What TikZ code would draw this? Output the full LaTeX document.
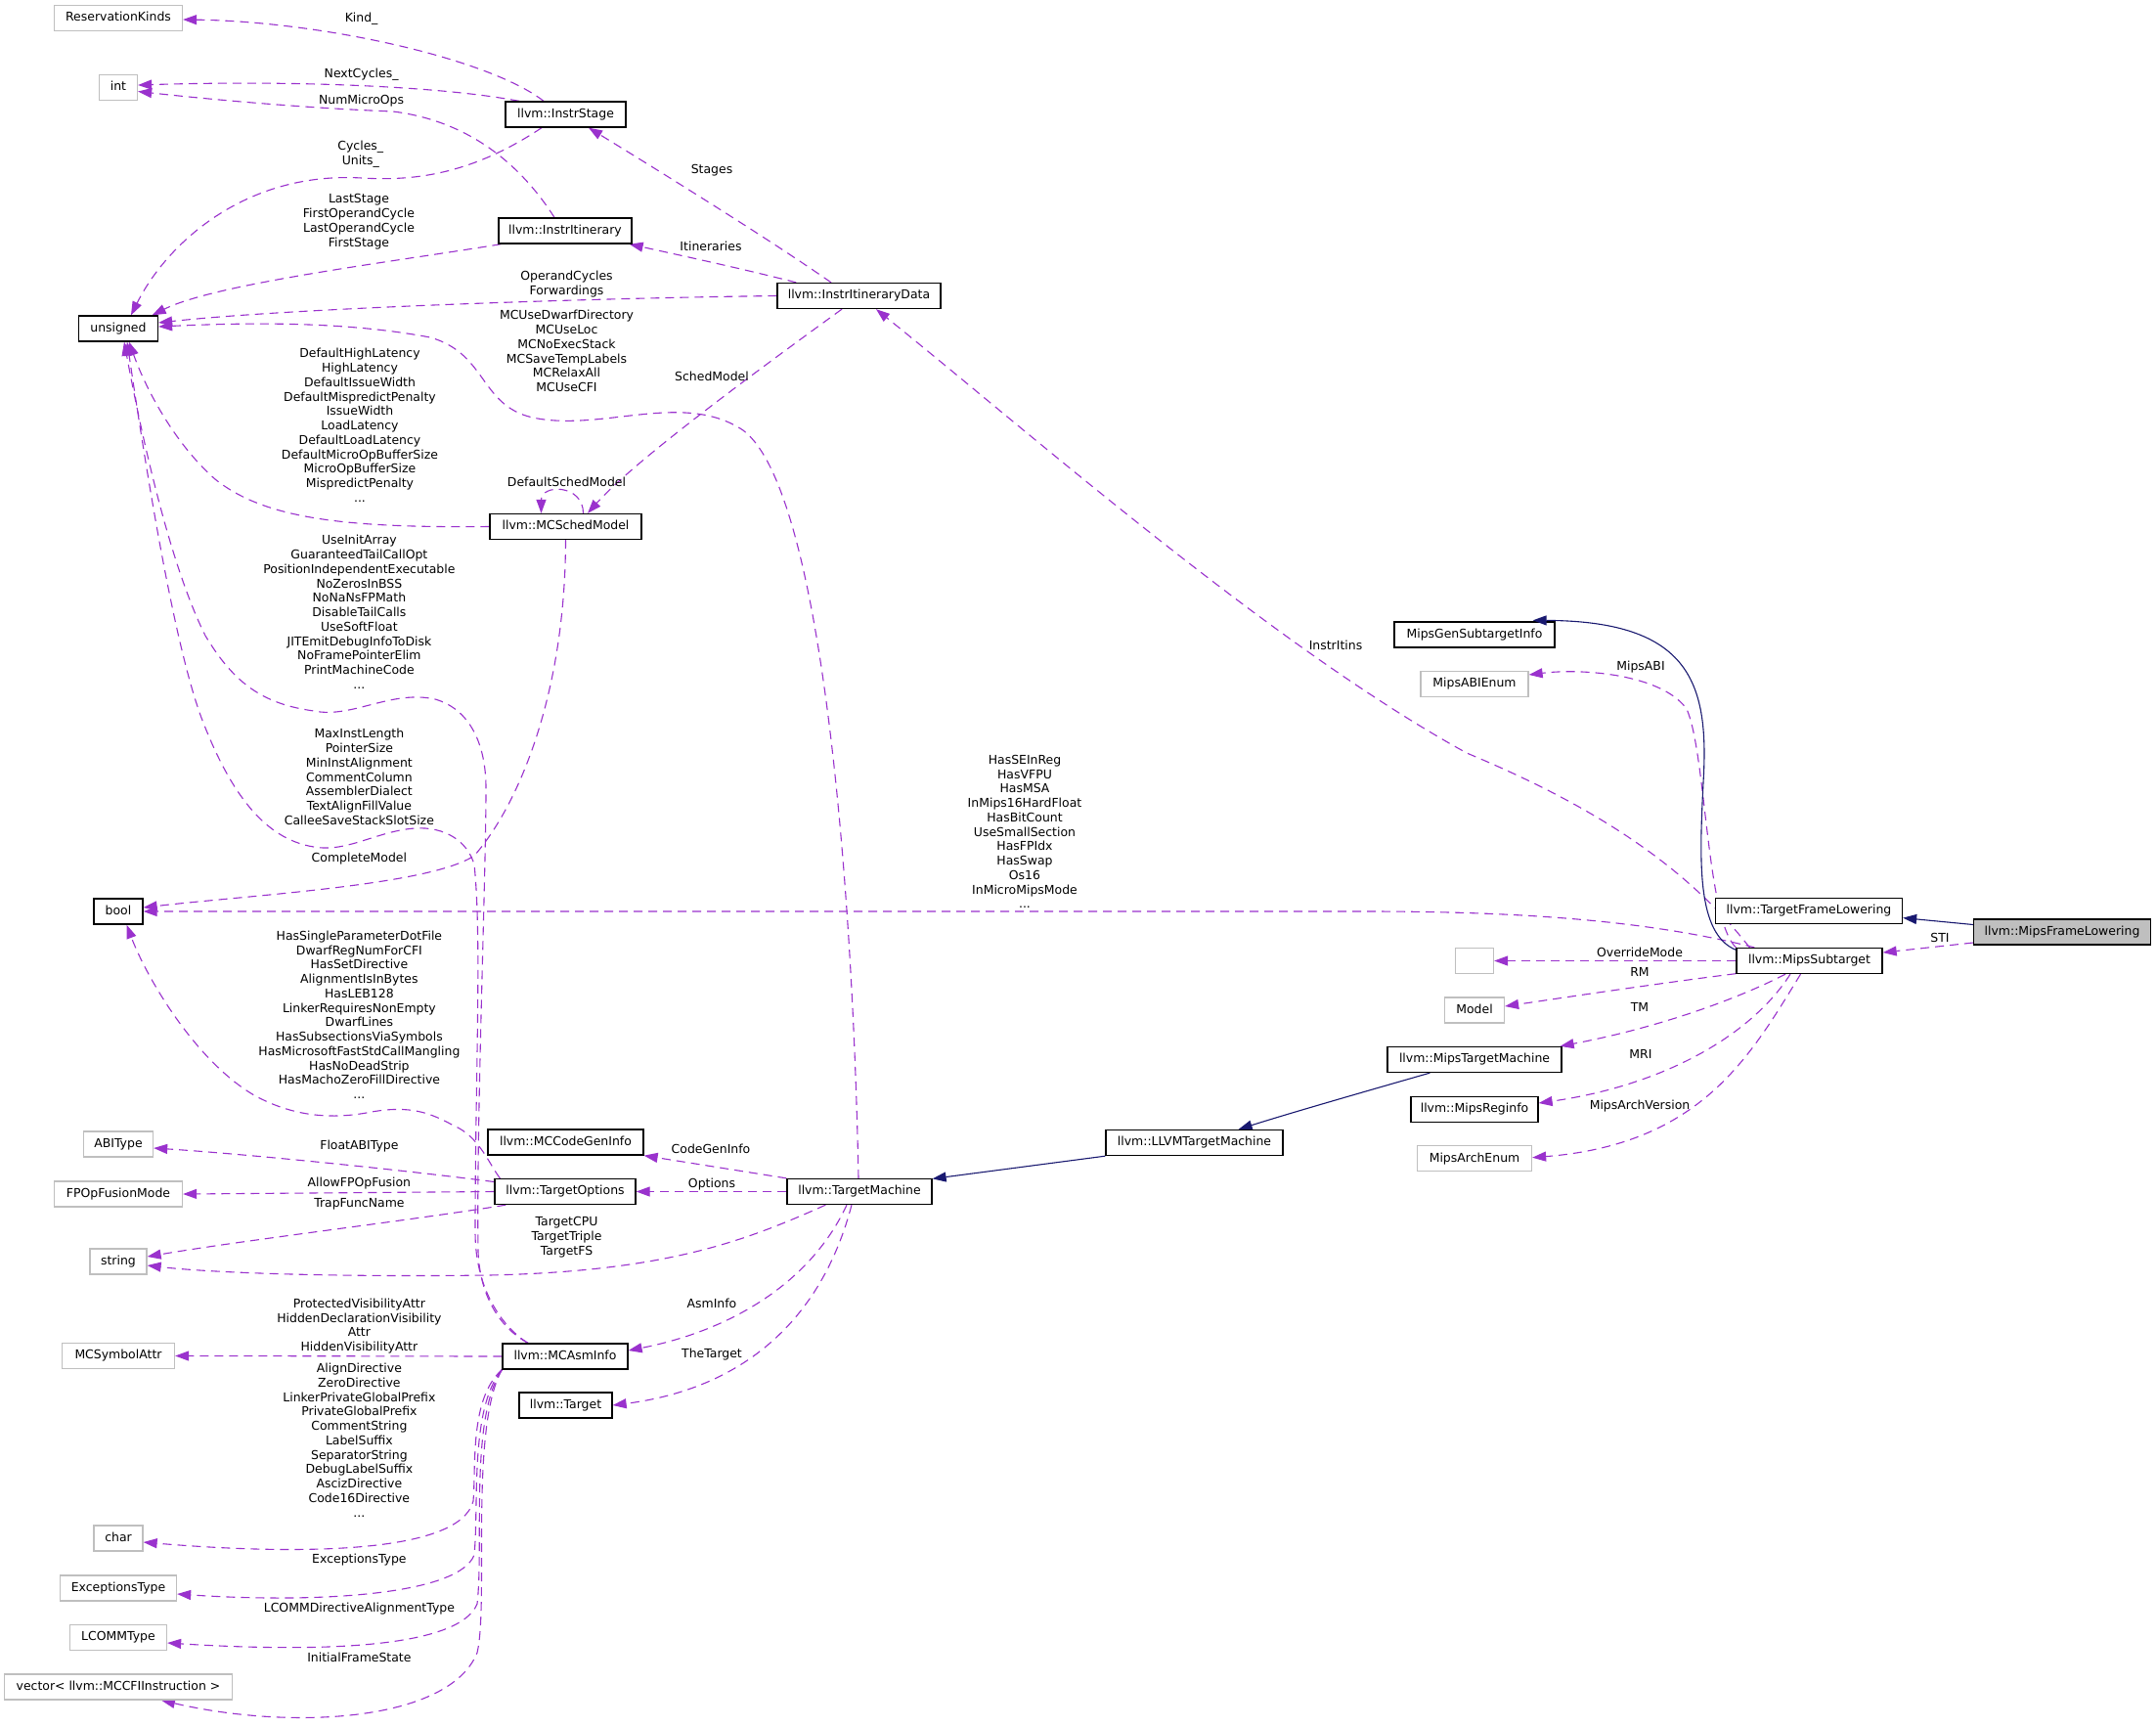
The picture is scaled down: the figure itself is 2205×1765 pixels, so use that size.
\documentclass[tikz,border=0pt]{standalone}
\usepackage{fontspec}
\setmainfont{DejaVu Sans}
\usetikzlibrary{arrows.meta}
\pgfdeclarelayer{bgl}
\pgfdeclarelayer{edgel}
\pgfsetlayers{bgl,edgel,main}
\definecolor{depcol}{HTML}{9A32CD}
\definecolor{inhcol}{HTML}{191970}
\definecolor{grey75}{HTML}{BFBFBF}
\begin{document}
\begin{tikzpicture}[x=1pt,y=-1pt,
 fnt/.style={font=\fontsize{12.45}{14.75}\selectfont},
 boxbase/.style={fnt, rectangle, line width=1.3pt, minimum height=26pt, inner xsep=4pt, inner ysep=0pt, text height=9.3pt, text depth=2.7pt},
 docbox/.style={boxbase, draw=black, fill=white},
 undocbox/.style={boxbase, draw=grey75, fill=white},
 lbl/.style={fnt, align=center, inner sep=0pt},
 dep/.style={draw=depcol, line width=1.1pt, dash pattern=on 9pt off 6pt, -{Triangle[length=14pt,width=10pt]}},
 inh/.style={draw=inhcol, line width=1.1pt, -{Triangle[length=14pt,width=10pt]}}]
\begin{pgfonlayer}{bgl}
\fill[white] (0,0) rectangle (2205,1765);
\end{pgfonlayer}
\useasboundingbox (0,0) rectangle (2205,1765);
% left column
\node[undocbox, minimum width=131pt] (rk) at (121,18.3) {ReservationKinds};
\node[undocbox, minimum width=39pt] (int) at (121,89.5) {int};
\node[docbox, minimum width=81pt] (uns) at (121,336) {unsigned};
\node[docbox, minimum width=50pt] (bool) at (121,932) {bool};
\node[undocbox, minimum width=71pt] (abi) at (121,1170) {ABIType};
\node[undocbox, minimum width=131pt] (fpo) at (121,1221) {FPOpFusionMode};
\node[undocbox, minimum width=58pt] (str) at (121,1290) {string};
\node[undocbox, minimum width=115pt] (msa) at (121,1386.5) {MCSymbolAttr};
\node[undocbox, minimum width=50pt] (chr) at (121,1573) {char};
\node[undocbox, minimum width=119pt] (ext) at (121,1624) {ExceptionsType};
\node[undocbox, minimum width=99pt] (lct) at (121,1674.5) {LCOMMType};
\node[undocbox, minimum width=233pt] (vec) at (121,1725) {vector< llvm::MCCFIInstruction >};
% middle column
\node[docbox, minimum width=123pt] (is) at (578.5,117) {llvm::InstrStage};
\node[docbox, minimum width=136pt] (iti) at (578,236) {llvm::InstrItinerary};
\node[docbox, minimum width=155pt] (msm) at (578.5,538.5) {llvm::MCSchedModel};
\node[docbox, minimum width=159pt] (mcgi) at (578.5,1168) {llvm::MCCodeGenInfo};
\node[docbox, minimum width=144pt] (to) at (578,1218.5) {llvm::TargetOptions};
\node[docbox, minimum width=128pt] (mai) at (578,1387) {llvm::MCAsmInfo};
\node[docbox, minimum width=95pt] (tgt) at (578.5,1437) {llvm::Target};
% third column
\node[docbox, minimum width=167pt] (iid) at (878.5,302.5) {llvm::InstrItineraryData};
\node[docbox, minimum width=148pt] (tm) at (879,1218.5) {llvm::TargetMachine};
\node[docbox, minimum width=181pt] (ltm) at (1221.5,1168.5) {llvm::LLVMTargetMachine};
% mips column
\node[docbox, minimum width=164pt] (mgsi) at (1508,649) {MipsGenSubtargetInfo};
\node[undocbox, minimum width=110pt] (mabi) at (1508,699.5) {MipsABIEnum};
\node[undocbox, minimum width=39pt] (empty) at (1508,982.5) {};
\node[undocbox, minimum width=61pt] (model) at (1508,1033) {Model};
\node[docbox, minimum width=178pt] (mtm) at (1508,1083.5) {llvm::MipsTargetMachine};
\node[docbox, minimum width=130pt] (mri) at (1508,1134.5) {llvm::MipsReginfo};
\node[undocbox, minimum width=117pt] (mae) at (1508,1184.7) {MipsArchEnum};
% right
\node[docbox, minimum width=191pt] (tfl) at (1850,931.6) {llvm::TargetFrameLowering};
\node[docbox, minimum width=149pt] (mst) at (1850.5,982.5) {llvm::MipsSubtarget};
\node[boxbase, draw=black, fill=grey75, minimum width=181pt] (mfl) at (2109,953) {llvm::MipsFrameLowering};

% edge labels
\node[lbl] (l1) at (369.6,18.75) {Kind\_};
\node[lbl] (l2) at (369.6,75.9) {NextCycles\_};
\node[lbl] (l3) at (369.6,102.7) {NumMicroOps};
\node[lbl] (l4) at (368.8,157.6) {Cycles\_\\Units\_};
\node[lbl] (l5) at (367,226.6) {LastStage\\FirstOperandCycle\\LastOperandCycle\\FirstStage};
\node[lbl] (l6) at (579.5,290.6) {OperandCycles\\Forwardings};
\node[lbl] (l7) at (579.5,359) {MCUseDwarfDirectory\\MCUseLoc\\MCNoExecStack\\MCSaveTempLabels\\MCRelaxAll\\MCUseCFI};
\node[lbl] (l8) at (368,434.8) {DefaultHighLatency\\HighLatency\\DefaultIssueWidth\\DefaultMispredictPenalty\\IssueWidth\\LoadLatency\\DefaultLoadLatency\\DefaultMicroOpBufferSize\\MicroOpBufferSize\\MispredictPenalty\\...};
\node[lbl] (l9) at (579.5,492.4) {DefaultSchedModel};
\node[lbl] (l10) at (728,384.6) {SchedModel};
\node[lbl] (l11) at (728,174.5) {Stages};
\node[lbl] (l12) at (727,251.8) {Itineraries};
\node[lbl] (l13) at (367.4,626) {UseInitArray\\GuaranteedTailCallOpt\\PositionIndependentExecutable\\NoZerosInBSS\\NoNaNsFPMath\\DisableTailCalls\\UseSoftFloat\\JITEmitDebugInfoToDisk\\NoFramePointerElim\\PrintMachineCode\\...};
\node[lbl] (l14) at (367.4,794.4) {MaxInstLength\\PointerSize\\MinInstAlignment\\CommentColumn\\AssemblerDialect\\TextAlignFillValue\\CalleeSaveStackSlotSize};
\node[lbl] (l15) at (367.4,878) {CompleteModel};
\node[lbl] (l16) at (367.4,1037.8) {HasSingleParameterDotFile\\DwarfRegNumForCFI\\HasSetDirective\\AlignmentIsInBytes\\HasLEB128\\LinkerRequiresNonEmpty\\DwarfLines\\HasSubsectionsViaSymbols\\HasMicrosoftFastStdCallMangling\\HasNoDeadStrip\\HasMachoZeroFillDirective\\...};
\node[lbl] (l17) at (367.4,1172.3) {FloatABIType};
\node[lbl] (l18) at (367.4,1210) {AllowFPOpFusion};
\node[lbl] (l19) at (367.4,1231) {TrapFuncName};
\node[lbl] (l20) at (579.5,1265) {TargetCPU\\TargetTriple\\TargetFS};
\node[lbl] (l21) at (367.4,1356) {ProtectedVisibilityAttr\\HiddenDeclarationVisibility\\Attr\\HiddenVisibilityAttr};
\node[lbl] (l22) at (367.4,1472.7) {AlignDirective\\ZeroDirective\\LinkerPrivateGlobalPrefix\\PrivateGlobalPrefix\\CommentString\\LabelSuffix\\SeparatorString\\DebugLabelSuffix\\AscizDirective\\Code16Directive\\...};
\node[lbl] (l23) at (367.4,1594.7) {ExceptionsType};
\node[lbl] (l24) at (367.4,1644.7) {LCOMMDirectiveAlignmentType};
\node[lbl] (l25) at (367.4,1695.3) {InitialFrameState};
\node[lbl] (l26) at (727,1175) {CodeGenInfo};
\node[lbl] (l27) at (728,1210.7) {Options};
\node[lbl] (l28) at (728,1332.6) {AsmInfo};
\node[lbl] (l29) at (728,1384.6) {TheTarget};
\node[lbl] (l30) at (1048,850.5) {HasSEInReg\\HasVFPU\\HasMSA\\InMips16HardFloat\\HasBitCount\\UseSmallSection\\HasFPIdx\\HasSwap\\Os16\\InMicroMipsMode\\...};
\node[lbl] (l31) at (1366,660) {InstrItins};
\node[lbl] (l32) at (1678,682) {MipsABI};
\node[lbl] (l33) at (1677,974) {OverrideMode};
\node[lbl] (l34) at (1677,994) {RM};
\node[lbl] (l35) at (1677,1030) {TM};
\node[lbl] (l36) at (1678,1078) {MRI};
\node[lbl] (l37) at (1677,1131) {MipsArchVersion};
\node[lbl] (l38) at (1984,959) {STI};

% inheritance edge to MipsGenSubtargetInfo drawn on top (its head lies on the box edge)
\draw[inh] ([yshift=-2.5pt]mst.north west) .. controls (1735,955) and (1738,880) .. (1742,800) .. controls (1748,700) and (1730,635) .. ([xshift=-23pt,yshift=1pt]mgsi.north east);

% edges (drawn beneath the boxes)
\begin{pgfonlayer}{edgel}
\draw[dep] ([xshift=-22.5pt]is.north) .. controls (500,60) and (330,22) .. ([yshift=-1.7pt]rk.east);
\draw[dep] ([xshift=-47.5pt]is.north) .. controls (450,88) and (300,82) .. ([yshift=2.5pt]int.east);
\draw[dep] ([xshift=-11pt]iti.north) .. controls (540,180) and (490,125) .. (402,114) .. controls (300,110) and (200,100) .. ([yshift=-4pt]int.east);
\draw[dep] ([xshift=-24.5pt]is.south) .. controls (480,180) and (420,185) .. (370,182) .. controls (250,175) and (170,250) .. ([xshift=13pt]uns.north);
\draw[dep] ([xshift=3pt]iti.south west) .. controls (400,268) and (220,290) .. ([xshift=-6.5pt]uns.north east);
\draw[dep] (iid.west) .. controls (600,305) and (300,315) .. ([yshift=6pt]uns.east);
\draw[dep] ([xshift=-1pt]tm.north) .. controls (872,900) and (840,500) .. (760,440) .. controls (700,400) and (620,440) .. (550,428) .. controls (490,418) and (500,362) .. (440,345) .. controls (350,328) and (250,330) .. ([yshift=2pt]uns.east);
\draw[dep] (msm.west) .. controls (350,540) and (270,530) .. (220,490) .. controls (180,455) and (150,400) .. ([xshift=11pt]uns.south);
\draw[dep] ([xshift=18pt]msm.north) .. controls +(0,-30) and +(0,-30) .. ([xshift=-25pt]msm.north);
\draw[dep] ([xshift=-17.5pt]iid.south) .. controls (780,375) and (650,470) .. ([xshift=22.5pt]msm.north);
\draw[dep] ([xshift=-28.5pt]iid.north) .. controls (780,240) and (650,160) .. ([xshift=23.5pt]is.south);
\draw[dep] ([xshift=20pt]iid.north west) .. controls (760,275) and (700,262) .. ([xshift=-3pt]iti.south east);
\draw[dep] ([xshift=-38pt]mai.north) .. controls (515,1360) and (491,1330) .. (489,1280) .. controls (487,1150) and (497,900) .. (497,806) .. controls (497,760) and (480,725) .. (445,715) .. controls (400,705) and (360,735) .. (321,727) .. controls (270,720) and (240,700) .. (210,650) .. controls (170,570) and (140,420) .. ([xshift=6pt]uns.south);
\draw[dep] ([xshift=-38pt]mai.north) .. controls (515,1358) and (486,1320) .. (486,1260) .. controls (486,1100) and (493,960) .. (485,884) .. controls (478,860) and (455,845) .. (424,847) .. controls (385,850) and (355,872) .. (321,866) .. controls (270,858) and (235,810) .. (206,734) .. controls (175,650) and (145,450) .. ([xshift=9pt]uns.south);
\draw[dep] ([xshift=6pt]to.north west) .. controls (500,1190) and (490,1162) .. (464,1151) .. controls (440,1138) and (420,1130) .. (380,1137) .. controls (340,1145) and (300,1142) .. (260,1120) .. controls (200,1085) and (150,1000) .. ([xshift=8.5pt]bool.south);
\draw[dep] (msm.south) .. controls (578,720) and (525,830) .. (485,875) .. controls (440,905) and (260,915) .. ([yshift=4pt]bool.east);
\draw[dep] ([xshift=19pt]mst.north west) .. controls (1700,945) and (1580,932) .. (1400,932) -- (bool.east);
\draw[dep] ([xshift=14pt]mst.north west) .. controls (1720,880) and (1620,820) .. (1500,770) .. controls (1300,660) and (1050,440) .. ([xshift=17.5pt]iid.south);
\draw[dep] (mst.north west) .. controls (1745,940) and (1745,770) .. (1725,725) .. controls (1700,690) and (1620,683) .. ([yshift=9.5pt]mabi.east);
\draw[dep] ([yshift=-11pt]mfl.west) -- ([yshift=8.5pt]mst.east);
\draw[inh] ([yshift=7.5pt]mfl.west) -- ([yshift=-7pt]tfl.east);
\draw[dep] (mst.west) -- (empty.east);
\draw[dep] ([yshift=0.5pt]mst.south west) .. controls (1700,1005) and (1600,1020) .. ([yshift=4pt]model.east);
\draw[dep] ([xshift=-24.5pt]mst.south) .. controls (1780,1020) and (1700,1050) .. ([xshift=-2pt]mtm.north east);
\draw[dep] ([xshift=-19.5pt]mst.south) .. controls (1790,1060) and (1700,1110) .. ([yshift=6.5pt]mri.east);
\draw[dep] ([xshift=-9pt]mst.south) .. controls (1790,1080) and (1740,1170) .. ([yshift=1pt]mae.east);
\draw[inh] ([xshift=44pt]mtm.south west) .. controls (1400,1115) and (1320,1138) .. ([xshift=-46pt]ltm.north east);
\draw[inh] (ltm.south west) -- ([yshift=-0.5pt]tm.north east);
\draw[dep] (tm.north west) -- (mcgi.south east);
\draw[dep] (tm.west) -- (to.east);
\draw[dep] ([xshift=40pt]tm.south west) .. controls (760,1270) and (680,1300) .. (500,1304) .. controls (350,1306) and (220,1302) .. ([yshift=-4pt]str.east);
\draw[dep] ([xshift=-13pt]tm.south) .. controls (830,1310) and (750,1360) .. ([yshift=6pt]mai.east);
\draw[dep] ([xshift=-8pt]tm.south) .. controls (840,1350) and (760,1420) .. (tgt.east);
\draw[dep] ([yshift=10pt]to.west) .. controls (400,1195) and (250,1180) .. ([yshift=-4pt]abi.east);
\draw[dep] (to.west) -- (fpo.east);
\draw[dep] ([xshift=12pt]to.south west) .. controls (420,1248) and (250,1268) .. ([yshift=5pt]str.east);
\draw[dep] (mai.west) -- (msa.east);
\draw[dep] (mai.south west) .. controls (480,1430) and (487,1500) .. (484,1535) .. controls (470,1590) and (300,1590) .. ([yshift=-4pt]chr.east);
\draw[dep] (mai.south west) .. controls (480,1440) and (490,1540) .. (485,1590) .. controls (470,1630) and (330,1640) .. ([yshift=-6pt]ext.east);
\draw[dep] (mai.south west) .. controls (480,1450) and (495,1580) .. (488,1640) .. controls (470,1685) and (330,1690) .. ([yshift=-5.5pt]lct.east);
\draw[dep] (mai.south west) .. controls (480,1460) and (500,1640) .. (488,1690) .. controls (460,1760) and (300,1770) .. ([xshift=44pt]vec.south);
\end{pgfonlayer}
\end{tikzpicture}
\end{document}
